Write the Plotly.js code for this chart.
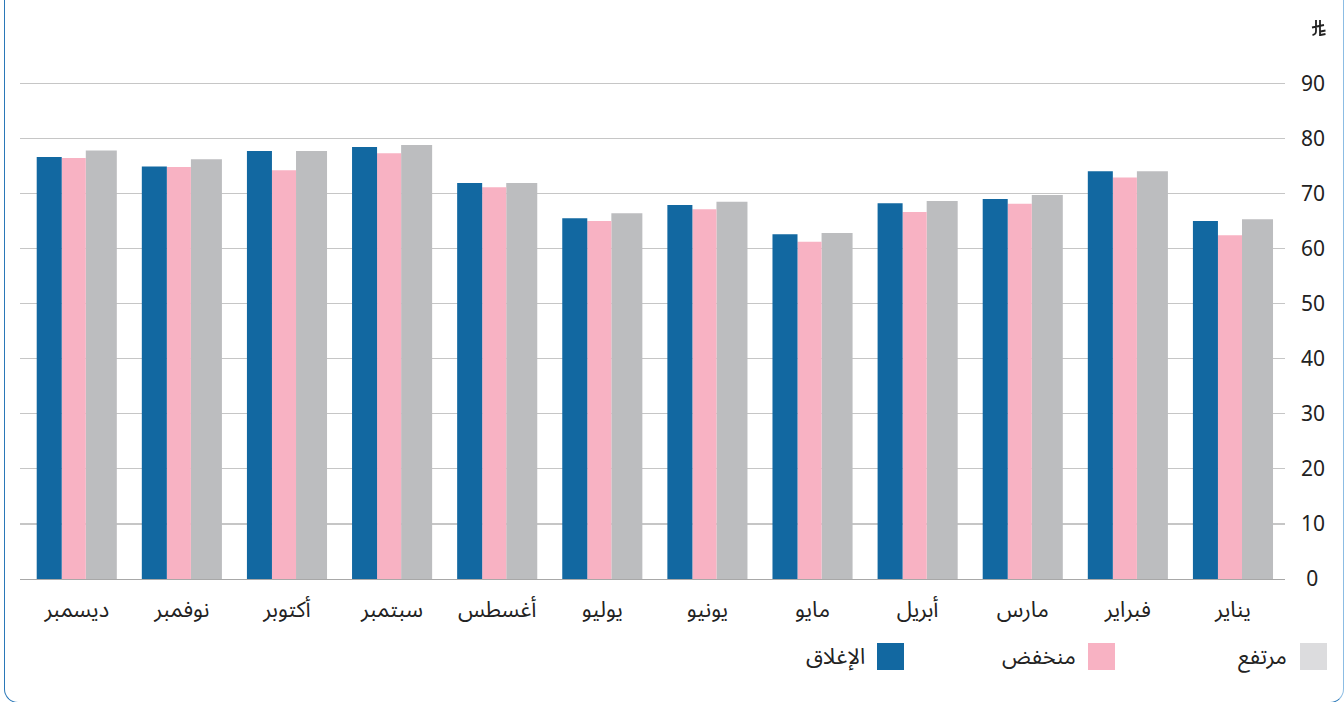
<!DOCTYPE html>
<html>
<head>
<meta charset="utf-8">
<script src="https://cdn.plot.ly/plotly-3.0.1.min.js"></script>
<style>
  html, body { margin: 0; padding: 0; background: #ffffff; overflow: hidden; }
  #wrap { position: relative; width: 1344px; height: 702px; }
  #chart { position: absolute; left: 0; top: 0; width: 1344px; height: 702px; }
  #card { position: absolute; left: 4px; top: -30px; width: 1340px; height: 733px; box-sizing: border-box;
          border: 1.5px solid #2a78b8; border-right-color: #8cbde4; border-radius: 14px; pointer-events: none; }
</style>
</head>
<body>
<div id="wrap">
  <div id="chart"></div>
  <div id="card"></div>
</div>
<script>
// Months (January .. December)
const months = ["يناير", "فبراير", "مارس", "أبريل", "مايو", "يونيو", "يوليو", "أغسطس", "سبتمبر", "أكتوبر", "نوفمبر", "ديسمبر"];
// Series values (Jan .. Dec)
const highVals  = [65.3, 74.0, 69.7, 68.6, 62.8, 68.5, 66.4, 71.9, 78.8, 77.7, 76.2, 77.8];
const lowVals   = [62.4, 72.9, 68.1, 66.6, 61.2, 67.1, 65.0, 71.1, 77.3, 74.2, 74.8, 76.4];
const closeVals = [65.0, 74.0, 69.0, 68.2, 62.6, 67.9, 65.5, 71.9, 78.4, 77.7, 74.9, 76.6];
// Series names
const nameHigh = "مرتفع";
const nameLow = "منخفض";
const nameClose = "الإغلاق";
// Y tick values
const yTicks = [0, 10, 20, 30, 40, 50, 60, 70, 80, 90];

const colHigh = "#bcbdbf", colLow = "#f8b2c3", colClose = "#1268a1";
const legendHigh = "#dcdcde";

const W = 1344, H = 702, mL = 20, mR = 59, mT = 81, mB = 123;
const pw = W - mL - mR, ph = H - mT - mB;
const px2x = p => (p - mL) / pw;
const px2y = p => (H - mB - p) / ph;

const arFont = "'Noto Sans Arabic', 'DejaVu Sans', sans-serif";
const numFont = "'Noto Sans', 'DejaVu Sans', sans-serif";

const traces = [
  { type: "bar", name: nameHigh, x: months, y: highVals, marker: { color: colHigh }, width: 0.295, offset: -0.381, hoverinfo: "y" },
  { type: "bar", name: nameLow, x: months, y: lowVals, marker: { color: colLow }, width: 0.229, offset: -0.086, hoverinfo: "y" },
  { type: "bar", name: nameClose, x: months, y: closeVals, marker: { color: colClose }, width: 0.238, offset: 0.143, hoverinfo: "y" }
];

// custom RTL legend (swatch on the right of the text)
const legendItems = [
  { name: nameHigh, color: legendHigh, sw: 1300, tx: 1289 },
  { name: nameLow, color: colLow, sw: 1088, tx: 1078 },
  { name: nameClose, color: colClose, sw: 877, tx: 867 }
];
const shapes = [];
const annotations = [];
legendItems.forEach(it => {
  shapes.push({ type: "rect", xref: "paper", yref: "paper", x0: px2x(it.sw), x1: px2x(it.sw + 27),
                y0: px2y(670), y1: px2y(643), fillcolor: it.color, line: { width: 0 } });
  annotations.push({ xref: "paper", yref: "paper", x: px2x(it.tx), y: px2y(657), xanchor: "right", yanchor: "middle",
                     text: it.name, showarrow: false, font: { family: arFont, size: 22, color: "#222" } });
});

// Saudi riyal sign drawn as a small glyph path
shapes.push({
  type: "path", xref: "paper", yref: "paper", xsizemode: "pixel", ysizemode: "pixel",
  xanchor: px2x(1312), yanchor: px2y(36),
  path: "M 4,16 L 4,5 Q 4,1.5 0.5,1 M 8,16 L 8,0 M 0,8.5 L 12,11 M 8.5,4.5 L 13.5,5.5 M 8.5,1 L 13.5,2",
  line: { color: "#222", width: 1.8 }
});

const layout = {
  width: W, height: H,
  margin: { l: mL, r: mR, t: mT, b: mB, pad: 0 },
  paper_bgcolor: "rgba(0,0,0,0)", plot_bgcolor: "rgba(0,0,0,0)",
  showlegend: false,
  barmode: "overlay",
  xaxis: {
    type: "category", categoryorder: "array", categoryarray: months,
    range: [11.54, -0.495], autorange: false,
    showgrid: false, zeroline: false, showline: true, linecolor: "#a8a8a8", linewidth: 1.2,
    ticks: "", ticklabelstandoff: 10,
    tickfont: { family: arFont, size: 22, color: "#222" }, fixedrange: true
  },
  yaxis: {
    side: "right", range: [0, 90.4], autorange: false,
    tickmode: "array", tickvals: yTicks, ticktext: yTicks.map(v => v < 10 ? "\u2005" + v : String(v)),
    showgrid: true, gridcolor: "#c6c6c6", gridwidth: 1.2, zeroline: false, showline: false,
    ticks: "", ticklabelstandoff: 15,
    tickfont: { family: numFont, size: 21, color: "#222" }, fixedrange: true
  },
  shapes: shapes,
  annotations: annotations
};

Plotly.newPlot("chart", traces, layout, { displayModeBar: false, staticPlot: true });
</script>
</body>
</html>
